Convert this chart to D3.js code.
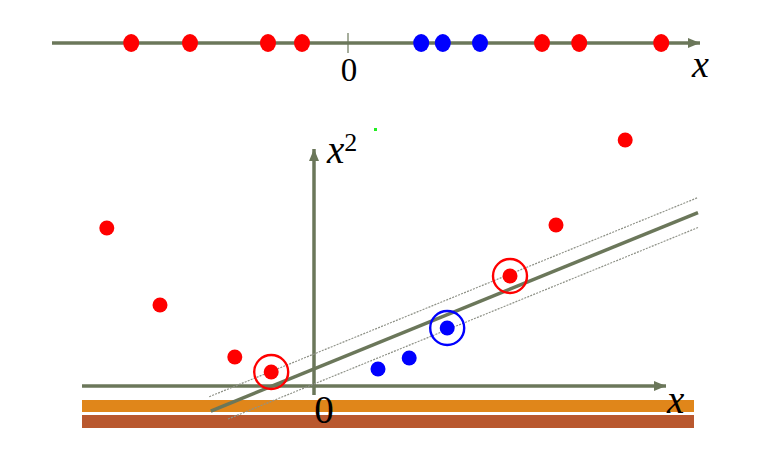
<!DOCTYPE html>
<html><head><meta charset="utf-8">
<script src="https://cdn.jsdelivr.net/npm/d3@7"></script>
<style>body{margin:0;background:#fff}svg{display:block}</style>
</head><body>
<svg id="c" width="758" height="460"></svg>
<script>
// ---- data ----
const topRed = [-5.42, -3.95, -2.0, -1.15, 4.85, 5.78, 7.83];
const topBlue = [1.83, 2.37, 3.3];
const botRedX = [-5.18, -3.85, -1.98, -1.07, 4.9, 6.05, 7.78];
const botRedY = [15.8, 8.1, 2.9, 1.4, 11.0, 16.1, 24.6];
const botBlueX = [1.6, 2.38, 3.33];
const botBlueY = [1.7, 2.8, 5.8];
const supportRed = [3, 4];   // indices of circled red points
const supportBlue = [2];     // indices of circled blue points
const sepIntercept = 1.7, sepSlope = 1.63, sepMargin = 1.5;
const tickLabels = ["0"];

const svg = d3.select("#c");
const axisCol = "#6b775a";
const red = "#ff0000", blue = "#0000ff";

const defs = svg.append("defs");
defs.append("marker").attr("id","arr").attr("viewBox","0 0 12 10")
  .attr("refX",12).attr("refY",5).attr("markerWidth",12).attr("markerHeight",10)
  .attr("markerUnits","userSpaceOnUse").attr("orient","auto")
  .append("path").attr("d","M0,0 L12,5 L0,10 Z").attr("fill",axisCol);

function txt(x, y, size, italic, s, anchor) {
  const t = svg.append("text").attr("x",x).attr("y",y).attr("text-anchor",anchor||"start")
    .style("font-family",'"Liberation Serif"').attr("font-size",size).text(s);
  if (italic) t.style("font-style","italic");
  return t;
}

// ---- top panel: 1D ----
const xt = d3.scaleLinear().domain([-7.4, 8.8]).range([52, 700]);
const yTop = 43;
svg.append("line").attr("x1",xt(-7.4)).attr("x2",xt(8.8)).attr("y1",yTop).attr("y2",yTop)
  .attr("stroke",axisCol).attr("stroke-width",3.5).attr("marker-end","url(#arr)");
svg.append("line").attr("x1",xt(0)).attr("x2",xt(0)).attr("y1",33).attr("y2",53)
  .attr("stroke",axisCol).attr("stroke-width",1.2);
txt(xt(0)+1, 81, 33, false, tickLabels[0], "middle");
txt(692, 77, 38, true, "x");
svg.selectAll(".tr").data(topRed).join("ellipse").attr("cx",d=>xt(d)).attr("cy",yTop)
  .attr("rx",8).attr("ry",9).attr("fill",red);
svg.selectAll(".tb").data(topBlue).join("ellipse").attr("cx",d=>xt(d)).attr("cy",yTop)
  .attr("rx",8).attr("ry",9).attr("fill",blue);

// ---- bottom panel: 2D (x, x^2) ----
const xb = d3.scaleLinear().domain([-5.8, 9.5]).range([82, 694]);
const yb = d3.scaleLinear().domain([0, 25]).range([386, 136]);

// decorative bands
svg.append("rect").attr("x",xb(-5.8)).attr("width",xb(9.5)-xb(-5.8)).attr("y",400).attr("height",12).attr("fill","#e0861a");
svg.append("rect").attr("x",xb(-5.8)).attr("width",xb(9.5)-xb(-5.8)).attr("y",415).attr("height",13).attr("fill","#b9582e");

// axes
svg.append("line").attr("x1",xb(-5.8)).attr("x2",xb(8.8)).attr("y1",yb(0)).attr("y2",yb(0))
  .attr("stroke",axisCol).attr("stroke-width",3.5).attr("marker-end","url(#arr)");
svg.append("line").attr("x1",xb(0)).attr("x2",xb(0)).attr("y1",yb(-0.9)).attr("y2",yb(23.7))
  .attr("stroke",axisCol).attr("stroke-width",3.5).attr("marker-end","url(#arr)");
txt(xb(0)+10, 423, 39, false, tickLabels[0], "middle");
txt(667, 413, 39, true, "x");
const lab = txt(327, 163, 39, true, "x");
lab.append("tspan").style("font-style","normal").attr("font-size",26).attr("dy",-12).text("2");
svg.append("rect").attr("x",374).attr("y",128).attr("width",3).attr("height",3).attr("fill","#22ee22");

// separating line and margins
const f = (x,o) => sepIntercept + sepSlope*x + o;
[[-2.62, 9.6, sepMargin],[-2.15, 9.6, -sepMargin]].forEach(([a,b,o])=>{
  svg.append("line").attr("x1",xb(a)).attr("x2",xb(b)).attr("y1",yb(f(a,o))).attr("y2",yb(f(b,o)))
    .attr("stroke","#8f9288").attr("stroke-width",1.2).attr("stroke-dasharray","2,1.2");
});
svg.append("line").attr("x1",xb(-2.58)).attr("x2",xb(9.6)).attr("y1",yb(f(-2.58,0))).attr("y2",yb(f(9.6,0)))
  .attr("stroke",axisCol).attr("stroke-width",3.5);

// points
const redPts = botRedX.map((x,i)=>({x, y: botRedY[i]}));
const bluePts = botBlueX.map((x,i)=>({x, y: botBlueY[i]}));
svg.selectAll(".br").data(redPts).join("circle").attr("cx",d=>xb(d.x)).attr("cy",d=>yb(d.y)).attr("r",7.5).attr("fill",red);
svg.selectAll(".bb").data(bluePts).join("circle").attr("cx",d=>xb(d.x)).attr("cy",d=>yb(d.y)).attr("r",7.5).attr("fill",blue);
svg.selectAll(".sr").data(supportRed.map(i=>redPts[i])).join("circle").attr("cx",d=>xb(d.x)).attr("cy",d=>yb(d.y))
  .attr("r",17).attr("fill","none").attr("stroke",red).attr("stroke-width",2.4);
svg.selectAll(".sb").data(supportBlue.map(i=>bluePts[i])).join("circle").attr("cx",d=>xb(d.x)).attr("cy",d=>yb(d.y))
  .attr("r",17).attr("fill","none").attr("stroke",blue).attr("stroke-width",2.4);
</script>
</body></html>
